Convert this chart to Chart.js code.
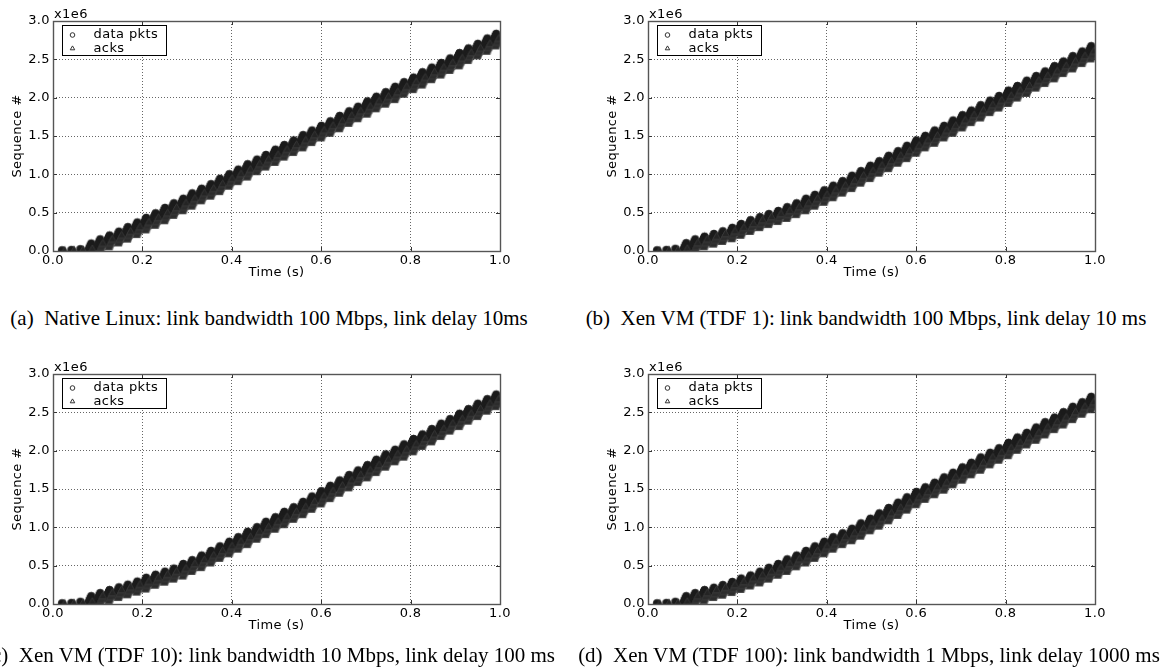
<!DOCTYPE html>
<html>
<head>
<meta charset="utf-8">
<script src="https://cdn.jsdelivr.net/npm/chart.js@4.4.0/dist/chart.umd.min.js"></script>
<style>
  html,body{margin:0;padding:0;background:#fff;}
  body{position:relative;width:1161px;height:670px;overflow:hidden;}
  canvas{position:absolute;}
  .cap{position:absolute;transform:translateX(-50%);white-space:nowrap;font-family:"Liberation Serif","Times New Roman",serif;font-size:21px;line-height:22px;color:#000;}
</style>
</head>
<body>
<canvas id="panelA" width="520" height="300" style="left:0;top:0"></canvas>
<canvas id="panelB" width="520" height="300" style="left:595px;top:0"></canvas>
<canvas id="panelC" width="520" height="300" style="left:0;top:353px"></canvas>
<canvas id="panelD" width="520" height="300" style="left:595px;top:353px"></canvas>
<div class="cap" id="capA" style="left:269px;top:307px"></div>
<div class="cap" id="capB" style="left:866px;top:307px"></div>
<div class="cap" id="capC" style="left:270px;top:644px"></div>
<div class="cap" id="capD" style="left:869px;top:644px"></div>
<script>
// burst times (s), shared by the four runs
var burstTimes=[0.020,0.041,0.061,0.082,0.102,0.123,0.144,0.164,0.185,0.205,0.226,0.247,0.267,0.288,0.308,0.329,0.350,0.370,0.391,0.411,0.432,0.453,0.473,0.494,0.514,0.535,0.556,0.576,0.597,0.617,0.638,0.659,0.679,0.700,0.720,0.741,0.762,0.782,0.803,0.823,0.844,0.865,0.885,0.906,0.926,0.947,0.968,0.988];
var ackTimes=[0.026,0.047,0.067,0.088,0.108,0.129,0.150,0.170,0.191,0.211,0.232,0.253,0.273,0.294,0.314,0.335,0.356,0.376,0.397,0.417,0.438,0.459,0.479,0.500,0.520,0.541,0.562,0.582,0.603,0.623,0.644,0.665,0.685,0.706,0.726,0.747,0.768,0.788,0.809,0.829,0.850,0.871,0.891,0.912,0.932,0.953,0.974,0.994];

// sequence numbers, x1e6
var dataA=[0.010,0.015,0.025,0.045,0.100,0.150,0.200,0.260,0.320,0.380,0.440,0.510,0.570,0.630,0.700,0.760,0.820,0.890,0.950,1.010,1.080,1.140,1.200,1.270,1.330,1.390,1.460,1.520,1.580,1.640,1.710,1.770,1.830,1.900,1.960,2.020,2.090,2.150,2.210,2.280,2.340,2.400,2.460,2.530,2.590,2.650,2.720,2.780];
var ackA=[0.005,0.010,0.015,0.025,0.045,0.100,0.150,0.200,0.260,0.320,0.380,0.440,0.510,0.570,0.630,0.700,0.760,0.820,0.890,0.950,1.010,1.080,1.140,1.200,1.270,1.330,1.390,1.460,1.520,1.580,1.640,1.710,1.770,1.830,1.900,1.960,2.020,2.090,2.150,2.210,2.280,2.340,2.400,2.460,2.530,2.590,2.650,2.720];

var dataB=[0.010,0.015,0.030,0.050,0.100,0.135,0.170,0.205,0.250,0.300,0.350,0.390,0.430,0.470,0.520,0.570,0.630,0.680,0.740,0.800,0.860,0.930,0.990,1.060,1.120,1.190,1.250,1.320,1.390,1.450,1.520,1.580,1.650,1.720,1.780,1.850,1.910,1.970,2.040,2.100,2.170,2.230,2.290,2.360,2.420,2.490,2.550,2.620];
var ackB=[0.005,0.010,0.015,0.030,0.050,0.100,0.135,0.170,0.205,0.250,0.300,0.350,0.390,0.430,0.470,0.520,0.570,0.630,0.680,0.740,0.800,0.860,0.930,0.990,1.060,1.120,1.190,1.250,1.320,1.390,1.450,1.520,1.580,1.650,1.720,1.780,1.850,1.910,1.970,2.040,2.100,2.170,2.230,2.290,2.360,2.420,2.490,2.550];

var dataC=[0.010,0.015,0.030,0.050,0.090,0.130,0.165,0.200,0.240,0.290,0.330,0.370,0.410,0.470,0.520,0.580,0.640,0.700,0.760,0.820,0.890,0.950,1.020,1.080,1.150,1.210,1.280,1.350,1.420,1.490,1.560,1.630,1.690,1.760,1.830,1.900,1.960,2.030,2.100,2.160,2.230,2.300,2.360,2.430,2.490,2.560,2.620,2.680];
var ackC=[0.005,0.010,0.015,0.030,0.050,0.090,0.130,0.165,0.200,0.240,0.290,0.330,0.370,0.410,0.470,0.520,0.580,0.640,0.700,0.760,0.820,0.890,0.950,1.020,1.080,1.150,1.210,1.280,1.350,1.420,1.490,1.560,1.630,1.690,1.760,1.830,1.900,1.960,2.030,2.100,2.160,2.230,2.300,2.360,2.430,2.490,2.560,2.620];

var dataD=[0.010,0.015,0.030,0.050,0.090,0.130,0.160,0.195,0.235,0.280,0.320,0.370,0.420,0.470,0.530,0.580,0.640,0.700,0.760,0.820,0.870,0.930,1.000,1.060,1.130,1.200,1.270,1.340,1.410,1.470,1.530,1.600,1.660,1.730,1.790,1.860,1.920,1.980,2.050,2.120,2.180,2.250,2.320,2.380,2.450,2.520,2.580,2.650];
var ackD=[0.005,0.010,0.015,0.030,0.050,0.090,0.130,0.160,0.195,0.235,0.280,0.320,0.370,0.420,0.470,0.530,0.580,0.640,0.700,0.760,0.820,0.870,0.930,1.000,1.060,1.130,1.200,1.270,1.340,1.410,1.470,1.530,1.600,1.660,1.730,1.790,1.860,1.920,1.980,2.050,2.120,2.180,2.250,2.320,2.380,2.450,2.520,2.580];

var xTicks=[0,0.2,0.4,0.6,0.8,1.0];
var yTicks=[0,0.5,1.0,1.5,2.0,2.5,3.0];
var seriesNames=['data pkts','acks'];
var captions=[
  '(a)\u00a0 Native Linux: link bandwidth 100 Mbps, link delay 10ms',
  '(b)\u00a0 Xen VM (TDF 1): link bandwidth 100 Mbps, link delay 10 ms',
  '(c)\u00a0 Xen VM (TDF 10): link bandwidth 10 Mbps, link delay 100 ms',
  '(d)\u00a0 Xen VM (TDF 100): link bandwidth 1 Mbps, link delay 1000 ms'
];

var FONT='"DejaVu Sans", sans-serif';
var FSIZE=13;

// a burst of packets drawn as a slanted pile of small markers
function pile(kind, n){
  var c=document.createElement('canvas'); c.width=16; c.height=20;
  var g=c.getContext('2d');
  g.lineWidth=0.8;
  g.fillStyle = kind==='tri' ? '#242424' : '#1a1a1a';
  g.strokeStyle = kind==='tri' ? '#3a3a3a' : '#202020';
  for(var k=0;k<n;k++){
    var x = n>1 ? 6+k*0.6 : 8, y = n>1 ? 14-k*1.35 : 10;
    g.beginPath();
    if(kind==='tri'){ g.moveTo(x,y-4.2); g.lineTo(x+3.8,y+2.5); g.lineTo(x-3.8,y+2.5); g.closePath(); }
    else g.arc(x,y,3.8,0,Math.PI*2);
    g.fill(); g.stroke();
  }
  return c;
}
var circPile=pile('circ',7), circOne=pile('circ',1);
var triPile=pile('tri',7), triOne=pile('tri',1);

function pts(xs,ys){ return xs.map(function(x,i){ return {x:x,y:ys[i]}; }); }

var textSpacing={
  id:'textSpacing',
  beforeUpdate:function(ch){ ch.ctx.letterSpacing='0.4px'; },
  beforeDraw:function(ch){ ch.ctx.letterSpacing='0.4px'; }
};

var frame={
  id:'frame',
  afterDraw:function(ch){
    var a=ch.chartArea, c=ch.ctx, sx=ch.scales.x, sy=ch.scales.y;
    c.save();
    c.setLineDash([]);
    c.strokeStyle='#333'; c.lineWidth=1;
    c.beginPath();
    xTicks.forEach(function(v){
      var px=Math.round(sx.getPixelForValue(v))+0.5;
      c.moveTo(px,a.bottom); c.lineTo(px,a.bottom-4);
      c.moveTo(px,a.top); c.lineTo(px,a.top+4);
    });
    yTicks.forEach(function(v){
      var py=Math.round(sy.getPixelForValue(v))+0.5;
      c.moveTo(a.left,py); c.lineTo(a.left+4,py);
      c.moveTo(a.right,py); c.lineTo(a.right-4,py);
    });
    c.stroke();
    c.strokeStyle='#555'; c.lineWidth=1.4;
    c.strokeRect(Math.round(a.left)+0.5, Math.round(a.top)+0.5, Math.round(a.right-a.left), Math.round(a.bottom-a.top));

    // offset text of the y axis
    c.fillStyle='#000'; c.font=FSIZE+'px '+FONT; c.textAlign='left'; c.textBaseline='alphabetic';
    c.fillText('x1e6', a.left+1, a.top-3);

    // legend box
    var bx=Math.round(a.left)+9.5, by=Math.round(a.top)+4.5, bw=104, bh=30;
    c.fillStyle='#fff'; c.fillRect(bx,by,bw,bh);
    c.strokeStyle='#000'; c.lineWidth=1; c.strokeRect(bx,by,bw,bh);
    var rows=[by+9.5, by+23];
    c.strokeStyle='#333'; c.fillStyle='rgba(255,255,255,0)';
    Chart.helpers.drawPoint(c,{pointStyle:'circle',radius:2.3,rotation:0,borderWidth:1},bx+10,rows[0]);
    Chart.helpers.drawPoint(c,{pointStyle:'triangle',radius:2.6,rotation:0,borderWidth:1},bx+10,rows[1]);
    c.fillStyle='#000'; c.font=FSIZE+'px '+FONT; c.textBaseline='middle';
    c.fillText(seriesNames[0], bx+31, rows[0]);
    c.fillText(seriesNames[1], bx+31, rows[1]);
    c.restore();
  }
};

function buildPanel(id, dataVals, ackVals){
  var ctx=document.getElementById(id).getContext('2d');
  var tickFont={family:FONT,size:FSIZE};
  return new Chart(ctx,{
    type:'scatter',
    data:{datasets:[
      {label:seriesNames[0], data:pts(burstTimes,dataVals), order:1, clip:0,
       pointRadius:4, pointHoverRadius:4,
       pointStyle:function(c){ return c.raw && c.raw.y<0.04 ? circOne : circPile; }},
      {label:seriesNames[1], data:pts(ackTimes,ackVals), order:0, clip:0,
       pointRadius:4, pointHoverRadius:4,
       pointStyle:function(c){ return c.raw && c.raw.y<0.04 ? triOne : triPile; }}
    ]},
    options:{
      responsive:false, animation:false, events:[],
      layout:{padding:{left:0,right:20,top:21,bottom:0}},
      plugins:{legend:{display:false},tooltip:{enabled:false}},
      scales:{
        x:{type:'linear',min:0,max:1,
          afterBuildTicks:function(s){ s.ticks=xTicks.map(function(v){return {value:v};}); },
          afterFit:function(s){ s.height=49; },
          grid:{color:'rgba(0,0,0,0.6)',lineWidth:1,drawTicks:false},
          border:{display:false,dash:[1,2]},
          ticks:{color:'#000',font:tickFont,padding:2,maxRotation:0,autoSkip:false,
            callback:function(v){ return Number(v).toFixed(1); }},
          title:{display:true,text:'Time (s)',color:'#000',font:tickFont,padding:{top:0,bottom:20}}
        },
        y:{type:'linear',min:0,max:3,
          afterBuildTicks:function(s){ s.ticks=yTicks.map(function(v){return {value:v};}); },
          afterFit:function(s){ s.width=53; },
          grid:{color:'rgba(0,0,0,0.6)',lineWidth:1,drawTicks:false},
          border:{display:false,dash:[1,2]},
          ticks:{color:'#000',font:tickFont,padding:3,autoSkip:false,
            callback:function(v){ return Number(v).toFixed(1); }},
          title:{display:true,text:'Sequence #',color:'#000',font:tickFont,padding:{top:10,bottom:0}}
        }
      }
    },
    plugins:[textSpacing,frame]
  });
}

buildPanel('panelA',dataA,ackA);
buildPanel('panelB',dataB,ackB);
buildPanel('panelC',dataC,ackC);
buildPanel('panelD',dataD,ackD);
['capA','capB','capC','capD'].forEach(function(id,i){ document.getElementById(id).textContent=captions[i]; });
</script>
</body>
</html>
